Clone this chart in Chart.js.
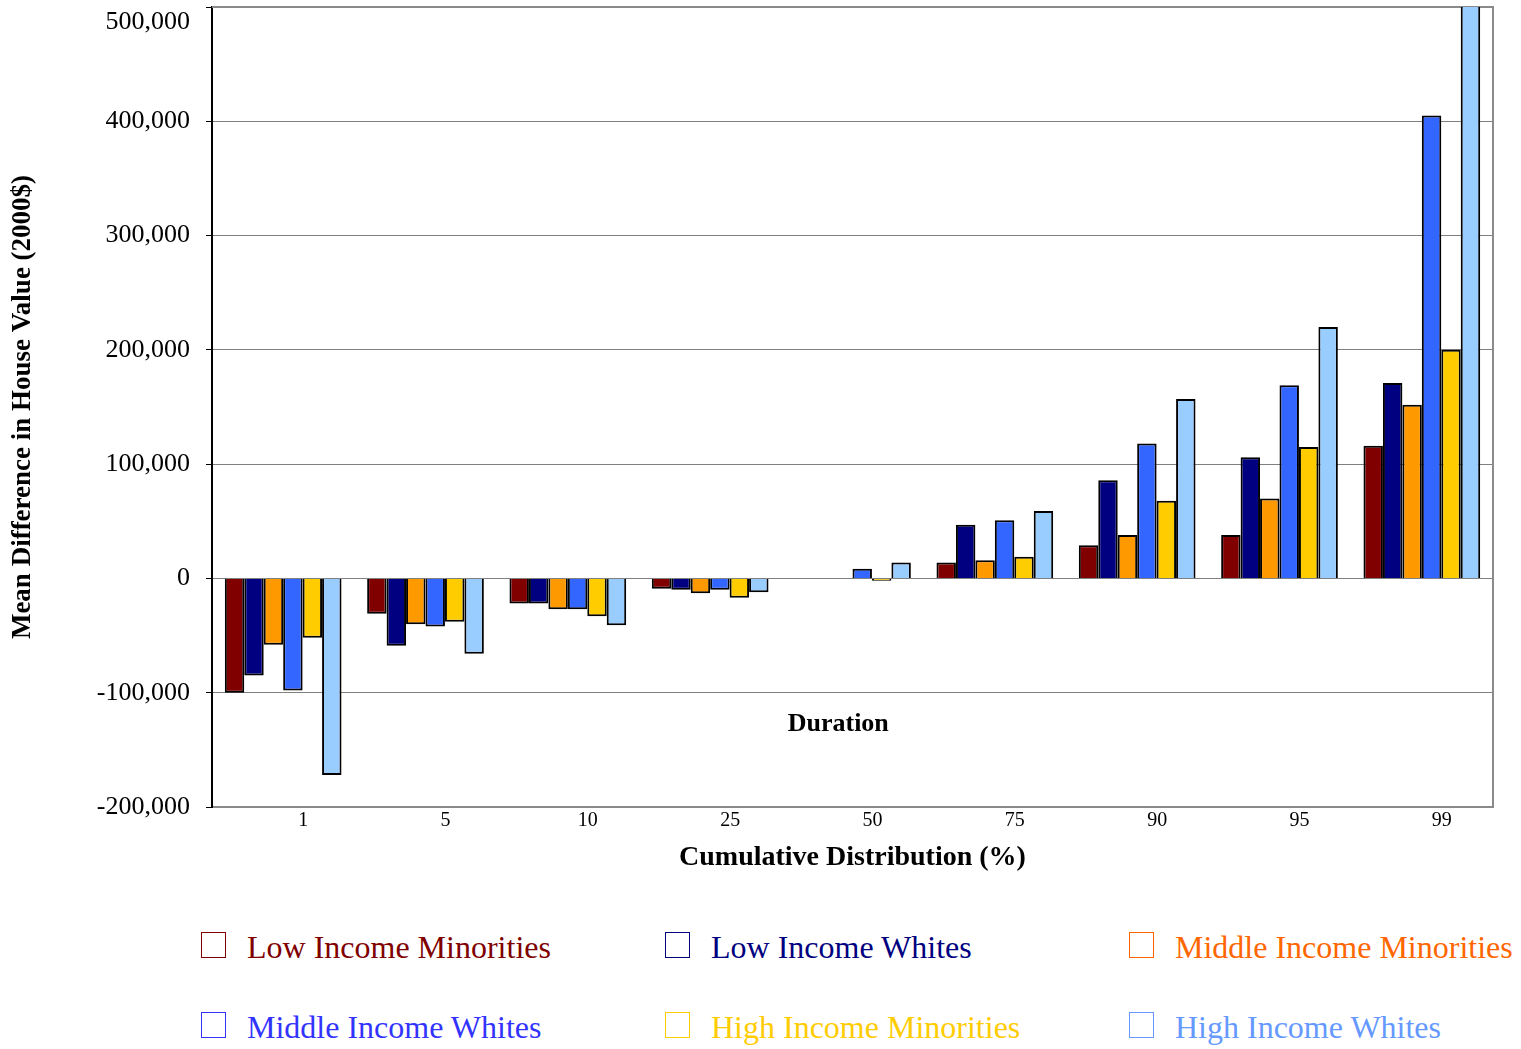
<!DOCTYPE html>
<html>
<head>
<meta charset="utf-8">
<script src="https://cdn.jsdelivr.net/npm/chart.js@4/dist/chart.umd.min.js"></script>
<style>
  html, body { margin: 0; padding: 0; background: #fff; }
  #wrap { position: relative; width: 1521px; height: 1049px; overflow: hidden; }
  #chart { position: absolute; left: 0; top: 0; }
  #legend { position: absolute; left: 201px; top: 927px; width: 1320px; }
  .item { position: absolute; display: flex; align-items: center; white-space: nowrap;
          font-family: "Liberation Serif", "Times New Roman", serif; font-size: 32px; line-height: 40px; }
  .box { width: 25px; height: 26px; border: 1.5px solid; box-sizing: border-box; margin-right: 21px; margin-top: -4px; }
</style>
</head>
<body>
<div id="wrap">
  <canvas id="chart" width="1521" height="880"></canvas>
  <div id="legend"></div>
</div>
<script>
// Cumulative distribution points (percent)
const categories = ['1', '5', '10', '25', '50', '75', '90', '95', '99'];

// Mean difference in house value (2000$) per group
const lowIncomeMinorities    = [-100000, -31000, -22000,  -9000,     0,  14000,  29000,  38000, 116000];
const lowIncomeWhites        = [ -85000, -59000, -22000, -10000,     0,  47000,  86000, 106000, 171000];
const middleIncomeMinorities = [ -58000, -40000, -27000, -13000,     0,  16000,  38000,  70000, 152000];
const middleIncomeWhites     = [ -98000, -42000, -27000, -10000,  8500,  51000, 118000, 169000, 405000];
const highIncomeMinorities   = [ -52000, -38000, -33000, -17000, -2000,  19000,  68000, 115000, 200000];
const highIncomeWhites       = [-172000, -66000, -41000, -12000, 14000,  59000, 157000, 220000, 560000];

const seriesNames  = ['Low Income Minorities', 'Low Income Whites', 'Middle Income Minorities',
                      'Middle Income Whites', 'High Income Minorities', 'High Income Whites'];
const seriesValues = [lowIncomeMinorities, lowIncomeWhites, middleIncomeMinorities,
                      middleIncomeWhites, highIncomeMinorities, highIncomeWhites];
const barColors    = ['#800000', '#000080', '#FF9900', '#3366FF', '#FFCC00', '#99CCFF'];
const legendColors = ['#800000', '#000080', '#FF6600', '#3333FF', '#FFCC00', '#6699FF'];

const Y_MIN = -200000, Y_MAX = 500000, Y_STEP = 100000;

const serif = '"Liberation Serif", "Times New Roman", serif';

// Grey frame on the top and right of the plot area
const framePlugin = {
  id: 'frame',
  beforeDatasetsDraw(chart) {
    const { ctx, chartArea: a } = chart;
    ctx.save();
    ctx.strokeStyle = '#8a8a8a';
    ctx.lineWidth = 2;
    ctx.beginPath();
    ctx.moveTo(a.left, a.top);
    ctx.lineTo(a.right, a.top);
    ctx.lineTo(a.right, a.bottom);
    ctx.stroke();
    ctx.restore();
  }
};

// "Duration" caption inside the plot area
const captionPlugin = {
  id: 'caption',
  afterDatasetsDraw(chart) {
    const { ctx, scales } = chart;
    const x = scales.x.getPixelForValue(3.9);
    const y = scales.y.getPixelForValue(-128000);
    ctx.save();
    ctx.font = 'bold 26px ' + serif;
    ctx.fillStyle = '#000';
    ctx.textAlign = 'center';
    ctx.textBaseline = 'middle';
    ctx.fillText('Duration', x, y);
    ctx.restore();
  }
};

new Chart(document.getElementById('chart'), {
  type: 'bar',
  data: {
    labels: categories,
    datasets: seriesNames.map((name, i) => ({
      label: name,
      data: seriesValues[i],
      backgroundColor: barColors[i],
      borderColor: '#000',
      borderWidth: 2,
      categoryPercentage: 0.82,
      barPercentage: 1.0,
      clip: 0
    }))
  },
  options: {
    responsive: false,
    animation: false,
    layout: { padding: { top: 7, right: 28, left: 0, bottom: 0 } },
    plugins: {
      legend: { display: false },
      tooltip: { enabled: false }
    },
    scales: {
      x: {
        grid: { display: false, drawTicks: false },
        border: { display: true, color: '#8a8a8a', width: 2 },
        ticks: { font: { family: serif, size: 20 }, color: '#000', padding: 2, labelOffset: 20, maxRotation: 0 },
        title: { display: true, text: 'Cumulative Distribution (%)', color: '#000',
                 font: { family: serif, size: 28, weight: 'bold' }, padding: { top: 4, bottom: 5 } },
        afterFit(scale) { scale.height = 73; }
      },
      y: {
        min: Y_MIN,
        max: Y_MAX,
        ticks: {
          stepSize: Y_STEP,
          font: { family: serif, size: 26 },
          color: '#000',
          padding: 16,
          // the top label sits just below its gridline, inside the page
          callback: v => v === Y_MAX ? ['', v.toLocaleString('en-US')] : v.toLocaleString('en-US')
        },
        grid: { color: '#808080', lineWidth: 1, tickLength: 6, tickColor: '#000' },
        border: { display: true, color: '#000', width: 2 },
        title: { display: true, text: 'Mean Difference in House Value (2000$)', color: '#000',
                 font: { family: serif, size: 27, weight: 'bold' }, padding: { top: 7, bottom: 4 } },
        afterFit(scale) {
          scale.width = 212;
          scale.paddingTop = 0;
          scale.paddingBottom = 0;
        }
      }
    }
  },
  plugins: [framePlugin, captionPlugin]
});

// Legend: three columns, two rows, hollow coloured boxes with coloured names
const legend = document.getElementById('legend');
seriesNames.forEach((name, i) => {
  const col = i % 3, row = Math.floor(i / 3);
  const item = document.createElement('div');
  item.className = 'item';
  item.style.left = (col * 464) + 'px';
  item.style.top = (row * 80) + 'px';
  item.style.color = legendColors[i];
  const box = document.createElement('span');
  box.className = 'box';
  box.style.borderColor = legendColors[i];
  const txt = document.createElement('span');
  txt.textContent = name;
  item.appendChild(box);
  item.appendChild(txt);
  legend.appendChild(item);
});
</script>
</body>
</html>
